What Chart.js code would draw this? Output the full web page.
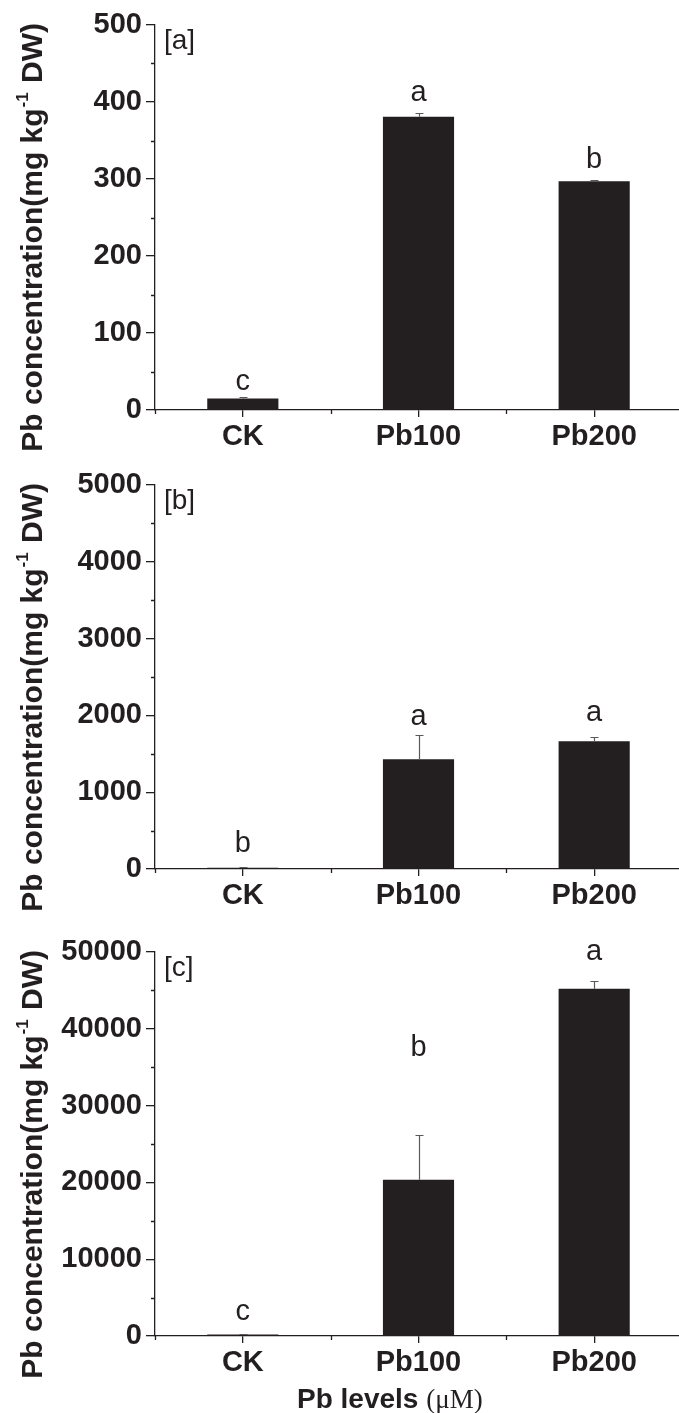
<!DOCTYPE html>
<html lang="en">
<head>
    <meta charset="UTF-8">
    <title>Pb concentration</title>
    <script src="https://cdn.jsdelivr.net/npm/chart.js"></script>
    <style>
        body {
            margin: 0;
            background: #fff;
            width: 679px;
            height: 1413px;
            overflow: hidden;
            position: relative;
        }
        canvas {
            position: absolute;
            left: 0;
        }
    </style>
</head>
<body>
<canvas id="chartA" width="682" height="462" style="top:0"></canvas>
<canvas id="chartB" width="682" height="466" style="top:462px"></canvas>
<canvas id="chartC" width="682" height="485" style="top:928px"></canvas>

<script>
    const categories = ['CK', 'Pb100', 'Pb200'];

    // panel [a]
    const valuesA = [15, 381, 297];
    const errorsA = [1.5, 4.5, 2];
    const lettersA = ['c', 'a', 'b'];
    const letterAtA = [26, 401, 314];
    const ticksA = [0, 100, 200, 300, 400, 500];

    // panel [b]
    const valuesB = [15, 1430, 1665];
    const errorsB = [5, 320, 55];
    const lettersB = ['b', 'a', 'a'];
    const letterAtB = [221, 1871, 1923];
    const ticksB = [0, 1000, 2000, 3000, 4000, 5000];

    // panel [c]
    const valuesC = [180, 20330, 45220];
    const errorsC = [30, 5820, 950];
    const lettersC = ['c', 'b', 'a'];
    const letterAtC = [2085, 36490, 48900];
    const ticksC = [0, 10000, 20000, 30000, 40000, 50000];

    const ink = '#231f20';
    const sans = '"Liberation Sans", Arial, sans-serif';
    const serif = '"Liberation Serif", "Times New Roman", serif';

    // marks drawn on top of the bars: error bars, letters, minor ticks, titles
    function extras(values, errors, letters, letterAt, ticks, tag, withXTitle) {
        return {
            id: 'extras',
            afterDraw(chart) {
                const ctx = chart.ctx;
                const area = chart.chartArea;
                const x = chart.scales.x;
                const y = chart.scales.y;
                ctx.save();

                // error bars (upper half)
                ctx.strokeStyle = '#5a5a5a';
                ctx.lineWidth = 1.2;
                values.forEach((v, i) => {
                    const cx = Math.round(x.getPixelForValue(i)) + 0.5;
                    const yTop = Math.round(y.getPixelForValue(v + errors[i])) + 0.5;
                    const yBar = y.getPixelForValue(v);
                    ctx.beginPath();
                    ctx.moveTo(cx, yBar);
                    ctx.lineTo(cx, yTop);
                    ctx.moveTo(cx - 4, yTop);
                    ctx.lineTo(cx + 4, yTop);
                    ctx.stroke();
                });

                // minor ticks
                ctx.strokeStyle = ink;
                ctx.lineWidth = 1.3;
                ctx.beginPath();
                for (let i = 0; i < ticks.length - 1; i++) {
                    const py = Math.round(y.getPixelForValue((ticks[i] + ticks[i + 1]) / 2)) + 0.5;
                    ctx.moveTo(area.left - 4, py);
                    ctx.lineTo(area.left, py);
                }
                for (let i = 0; i <= categories.length; i++) {
                    const px = Math.round(x.getPixelForValue(i - 0.5)) + 0.5;
                    ctx.moveTo(px, area.bottom);
                    ctx.lineTo(px, area.bottom + 4);
                }
                ctx.stroke();

                // significance letters
                ctx.fillStyle = ink;
                ctx.font = '29px ' + sans;
                ctx.textAlign = 'center';
                ctx.textBaseline = 'alphabetic';
                letters.forEach((l, i) => {
                    ctx.fillText(l, x.getPixelForValue(i), y.getPixelForValue(letterAt[i]));
                });

                // panel tag
                ctx.textAlign = 'left';
                ctx.font = '28px ' + sans;
                ctx.fillText(tag, area.left + 9, area.top + 24);

                // y axis title with superscript
                const part1 = 'Pb concentration(mg kg';
                const part3 = ' DW)';
                ctx.font = 'bold 30px ' + sans;
                const w1 = ctx.measureText(part1).width;
                const w3 = ctx.measureText(part3).width;
                ctx.font = 'bold 17px ' + sans;
                const w2 = ctx.measureText('-1').width;
                const total = w1 + w2 + w3 + 2;
                ctx.save();
                ctx.translate(42, area.top - 2 + total);
                ctx.rotate(-Math.PI / 2);
                ctx.font = 'bold 30px ' + sans;
                ctx.fillText(part1, 0, 0);
                ctx.font = 'bold 17px ' + sans;
                ctx.fillText('-1', w1 + 1, -14);
                ctx.font = 'bold 30px ' + sans;
                ctx.fillText(part3, w1 + w2 + 2, 0);
                ctx.restore();

                // x axis title (bottom panel only)
                if (withXTitle) {
                    const tx = area.left + 142;
                    const ty = area.bottom + 72;
                    ctx.font = 'bold 28px ' + sans;
                    const tw = ctx.measureText('Pb levels ').width;
                    ctx.fillText('Pb levels ', tx, ty);
                    ctx.font = '27px ' + serif;
                    ctx.fillText('(\u03bcM)', tx + tw, ty);
                }
                ctx.restore();
            }
        };
    }

    function makePanel(id, values, errors, letters, letterAt, ticks, tag, topPad, xHeight, withXTitle) {
        const ctx = document.getElementById(id).getContext('2d');
        return new Chart(ctx, {
            type: 'bar',
            data: {
                labels: categories,
                datasets: [{
                    data: values,
                    backgroundColor: ink,
                    borderWidth: 0,
                    categoryPercentage: 1,
                    barPercentage: 0.405
                }]
            },
            options: {
                responsive: false,
                animation: false,
                devicePixelRatio: 1,
                layout: { padding: { top: topPad, left: 0, right: 0, bottom: 0 } },
                plugins: {
                    legend: { display: false },
                    tooltip: { enabled: false }
                },
                scales: {
                    x: {
                        offset: true,
                        afterFit: s => { s.height = xHeight; },
                        border: { display: true, color: ink, width: 1.3 },
                        grid: { offset: false, drawOnChartArea: false, drawTicks: true, tickLength: 7, color: ink, lineWidth: 1.3 },
                        ticks: { color: ink, padding: 3, font: { family: sans, size: 29, weight: 'bold' } }
                    },
                    y: {
                        min: ticks[0],
                        max: ticks[ticks.length - 1],
                        afterFit: s => { s.width = 155; },
                        border: { display: true, color: ink, width: 1.3 },
                        grid: { drawOnChartArea: false, drawTicks: true, tickLength: 9, color: ink, lineWidth: 1.3 },
                        ticks: {
                            stepSize: ticks[1] - ticks[0],
                            color: ink,
                            padding: 4,
                            callback: v => String(v),
                            font: { family: sans, size: 29, weight: 'bold' }
                        }
                    }
                }
            },
            plugins: [extras(values, errors, letters, letterAt, ticks, tag, withXTitle)]
        });
    }

    makePanel('chartA', valuesA, errorsA, lettersA, letterAtA, ticksA, '[a]', 25, 52, false);
    makePanel('chartB', valuesB, errorsB, lettersB, letterAtB, ticksB, '[b]', 23, 59, false);
    makePanel('chartC', valuesC, errorsC, lettersC, letterAtC, ticksC, '[c]', 24, 77, true);
</script>
</body>
</html>
